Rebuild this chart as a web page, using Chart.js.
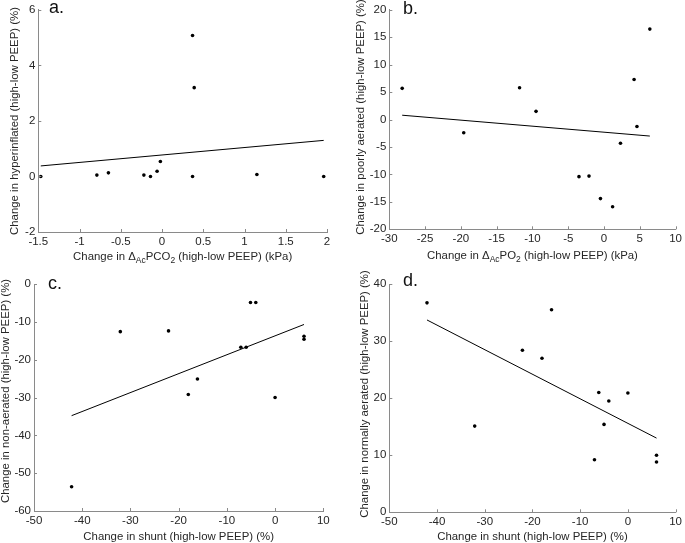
<!DOCTYPE html>
<html><head><meta charset="utf-8">
<script src="https://cdn.jsdelivr.net/npm/chart.js@4.4.0/dist/chart.umd.min.js"></script>
<style>
html,body{margin:0;padding:0;background:#fff;}
#wrap{position:relative;width:685px;height:543px;overflow:hidden;background:#fff;}
canvas{position:absolute;}
</style></head><body>
<div id="wrap">
<canvas id="ca" width="340" height="270" style="left:0px;top:0px"></canvas>
<canvas id="cb" width="345" height="270" style="left:340px;top:0px"></canvas>
<canvas id="cc" width="340" height="273" style="left:0px;top:270px"></canvas>
<canvas id="cd" width="345" height="273" style="left:340px;top:270px"></canvas>
</div>
<script>
// ---- Data ----
// Panel a: change in ΔAcPCO2 (kPa) vs change in hyperinflated (%)
const aX = [-1.47, -0.79, -0.65, -0.22, -0.14, -0.06, -0.02, 0.37, 0.39, 0.37, 1.15, 1.96];
const aY = [0.0, 0.05, 0.13, 0.05, 0.0, 0.19, 0.54, 5.08, 3.2, 0.0, 0.07, 0.0];
const aFitX = [-1.47, 1.96];
const aFitY = [0.38, 1.30];

// Panel b: change in ΔAcPO2 (kPa) vs change in poorly aerated (%)
const bX = [-28.2, -19.6, -11.8, -9.5, -3.5, -2.1, -0.5, 1.2, 2.3, 4.2, 4.6, 6.4];
const bY = [5.7, -2.4, 5.8, 1.5, -10.4, -10.3, -14.4, -15.9, -4.3, 7.3, -1.25, 16.5];
const bFitX = [-28.2, 6.4];
const bFitY = [0.8, -3.0];

// Panel c: change in shunt (%) vs change in non-aerated (%)
const cX = [-42.2, -32.1, -22.1, -18.0, -16.1, -7.1, -6.0, -5.1, -4.0, 0.0, 6.0, 6.0];
const cY = [-53.6, -12.6, -12.4, -29.2, -25.1, -16.7, -16.7, -4.9, -4.9, -30.0, -13.8, -14.6];
const cFitX = [-42.2, 6.0];
const cFitY = [-34.8, -10.7];

// Panel d: change in shunt (%) vs change in normally aerated (%)
const dX = [-42.1, -32.1, -22.1, -18.0, -16.0, -7.0, -6.1, -5.0, -4.0, 0.0, 6.0, 6.0];
const dY = [36.7, 15.1, 28.4, 27.0, 35.5, 9.2, 21.0, 15.4, 19.5, 20.9, 10.0, 8.8];
const dFitX = [-42.1, 6.0];
const dFitY = [33.7, 13.0];

// Axis ranges / tick steps
const aXRange = [-1.5, 2, 0.5], aYRange = [-2, 6, 2];
const bXRange = [-30, 10, 5],  bYRange = [-20, 20, 5];
const cXRange = [-50, 10, 10], cYRange = [-60, 0, 10];
const dXRange = [-50, 10, 10], dYRange = [0, 40, 10];

// Text
const panelLabels = ['a.', 'b.', 'c.', 'd.'];
const yTitles = [
  'Change in hyperinflated (high-low PEEP) (%)',
  'Change in poorly aerated (high-low PEEP) (%)',
  'Change in non-aerated (high-low PEEP) (%)',
  'Change in normally aerated (high-low PEEP) (%)'
];
// x titles as [text, isSubscript] segments
const xTitles = [
  [['Change in \u0394', 0], ['Ac', 1], ['PCO', 0], ['2', 1], [' (high-low PEEP) (kPa)', 0]],
  [['Change in \u0394', 0], ['Ac', 1], ['PO', 0], ['2', 1], [' (high-low PEEP) (kPa)', 0]],
  [['Change in shunt (high-low PEEP) (%)', 0]],
  [['Change in shunt (high-low PEEP) (%)', 0]]
];

// ---- Layout (page pixels) ----
const FONT = "'Liberation Sans', Arial, sans-serif";
const TXT = '#262626';
const AXC = '#8a8a8a';
const TITLE_SIZE = 11.4;
const TICK_SIZE = 11.5;
const layouts = [
  {id:'ca', left:0,   top:0,   w:340, h:270, L:38.3,  T:8.3, R:327,   B:232,   yTitleX:15,  yTitleY:121, xTitleY:257, labX:49,  labY:8},
  {id:'cb', left:340, top:0,   w:345, h:270, L:389.3, T:6,   R:679.3, B:229.3, yTitleX:361, yTitleY:117, xTitleY:256, labX:403, labY:9},
  {id:'cc', left:0,   top:270, w:340, h:273, L:34,    T:284, R:323.3, B:511,   yTitleX:6,   yTitleY:391, xTitleY:537, labX:48,  labY:284},
  {id:'cd', left:340, top:270, w:345, h:273, L:389.3, T:284, R:679.3, B:512.3, yTitleX:365, yTitleY:394, xTitleY:537, labX:403, labY:281}
];

function pts(xs, ys) { return xs.map((x, i) => ({x: x, y: ys[i]})); }
function fmt(v) { return String(Number(v.toFixed(4))); }

const panels = [
  {xs:aX, ys:aY, fx:aFitX, fy:aFitY, xr:aXRange, yr:aYRange},
  {xs:bX, ys:bY, fx:bFitX, fy:bFitY, xr:bXRange, yr:bYRange},
  {xs:cX, ys:cY, fx:cFitX, fy:cFitY, xr:cXRange, yr:cYRange},
  {xs:dX, ys:dY, fx:dFitX, fy:dFitY, xr:dXRange, yr:dYRange}
];

function makeDecor(idx) {
  const lay = layouts[idx];
  return {
    id: 'decor' + idx,
    afterDraw(chart) {
      const ctx = chart.ctx;
      const xs = chart.scales.x, ys = chart.scales.y;
      const a = chart.chartArea;
      ctx.save();
      // inward tick marks
      ctx.strokeStyle = AXC;
      ctx.lineWidth = 1;
      ctx.beginPath();
      xs.ticks.forEach(t => {
        const p = Math.round(xs.getPixelForValue(t.value)) + 0.5;
        ctx.moveTo(p, a.bottom); ctx.lineTo(p, a.bottom - 3);
      });
      ys.ticks.forEach(t => {
        const p = Math.round(ys.getPixelForValue(t.value)) + 0.5;
        ctx.moveTo(a.left, p); ctx.lineTo(a.left + 3, p);
      });
      ctx.stroke();
      // panel label
      ctx.fillStyle = '#111';
      ctx.font = '18px ' + FONT;
      ctx.textBaseline = 'middle';
      ctx.textAlign = 'left';
      ctx.fillText(panelLabels[idx], lay.labX - lay.left, lay.labY - lay.top);
      // y title
      ctx.fillStyle = TXT;
      ctx.font = TITLE_SIZE + 'px ' + FONT;
      ctx.save();
      ctx.translate(lay.yTitleX - lay.left, lay.yTitleY - lay.top);
      ctx.rotate(-Math.PI / 2);
      ctx.textAlign = 'center';
      ctx.textBaseline = 'middle';
      ctx.fillText(yTitles[idx], 0, 0);
      ctx.restore();
      // x title with subscripts
      const segs = xTitles[idx];
      const mainF = TITLE_SIZE + 'px ' + FONT, subF = '8.5px ' + FONT;
      let total = 0;
      segs.forEach(s => { ctx.font = s[1] ? subF : mainF; total += ctx.measureText(s[0]).width; });
      let x = (a.left + a.right) / 2 - total / 2;
      const y = lay.xTitleY - lay.top;
      ctx.textAlign = 'left';
      ctx.textBaseline = 'middle';
      segs.forEach(s => {
        ctx.font = s[1] ? subF : mainF;
        ctx.fillText(s[0], x, s[1] ? y + 4 : y);
        x += ctx.measureText(s[0]).width;
      });
      ctx.restore();
    }
  };
}

panels.forEach((p, idx) => {
  const lay = layouts[idx];
  const canvas = document.getElementById(lay.id);
  new Chart(canvas, {
    type: 'scatter',
    data: {
      datasets: [
        {data: pts(p.xs, p.ys), pointRadius: 1.8, pointBackgroundColor: '#000', pointBorderWidth: 0, showLine: false},
        {data: pts(p.fx, p.fy), showLine: true, borderColor: '#000', borderWidth: 1, pointRadius: 0, fill: false}
      ]
    },
    options: {
      responsive: false,
      animation: false,
      events: [],
      layout: {padding: {top: lay.T - lay.top, right: lay.left + lay.w - lay.R, left: 0, bottom: 0}},
      plugins: {legend: {display: false}, tooltip: {enabled: false}},
      scales: {
        x: {
          type: 'linear', min: p.xr[0], max: p.xr[1],
          ticks: {stepSize: p.xr[2], color: TXT, font: {family: FONT, size: TICK_SIZE}, padding: 3, maxRotation: 0, autoSkip: false, callback: fmt},
          grid: {display: false, drawTicks: false},
          border: {display: true, color: AXC, width: 1},
          afterFit(s) { s.height = lay.top + lay.h - lay.B; }
        },
        y: {
          type: 'linear', min: p.yr[0], max: p.yr[1],
          ticks: {stepSize: p.yr[2], color: TXT, font: {family: FONT, size: TICK_SIZE}, padding: 3, autoSkip: false, callback: fmt},
          grid: {display: false, drawTicks: false},
          border: {display: true, color: AXC, width: 1},
          afterFit(s) { s.width = lay.L - lay.left; }
        }
      }
    },
    plugins: [makeDecor(idx)]
  });
});
</script>
</body></html>
